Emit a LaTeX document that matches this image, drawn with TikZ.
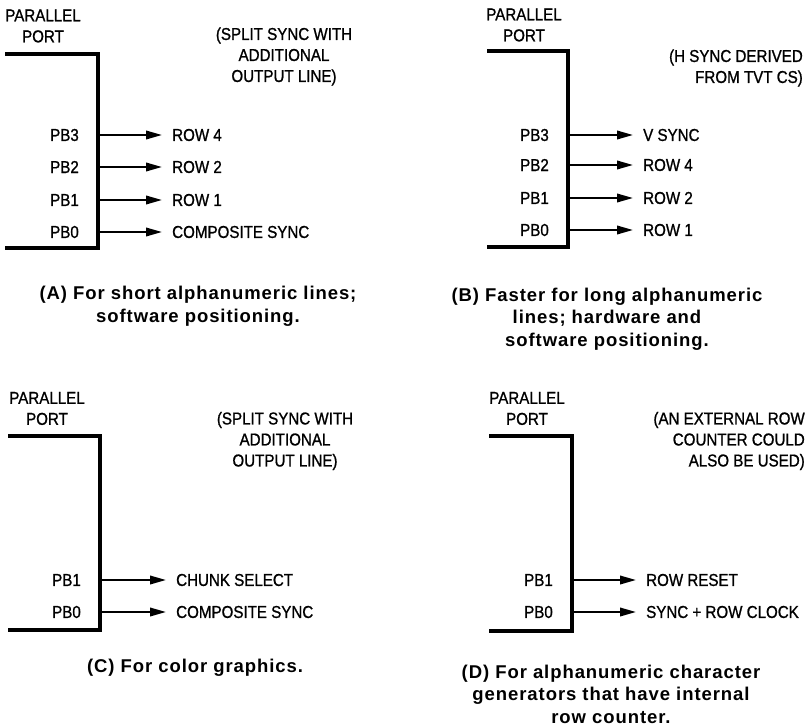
\documentclass[tikz,border=0pt]{standalone}
\usepackage{fontspec}
\usetikzlibrary{arrows.meta}
\newfontfamily\condfont[FakeStretch=0.88,FakeBold=1]{Liberation Sans}
\newfontfamily\capfont[LetterSpace=5]{Liberation Sans}
\begin{document}
\begin{tikzpicture}[x=1pt,y=-1pt,
  portline/.style={line width=4.5pt,line cap=butt,line join=miter},
  sig/.style={line width=2pt,-{Triangle[length=16pt,width=8.5pt]}},
  lbl/.style={font=\condfont\fontsize{17.2}{21}\selectfont,inner sep=0pt},
  pblbl/.style={lbl,anchor=east},
  outlbl/.style={lbl,anchor=west,inner xsep=10pt},
  note/.style={lbl,align=center},
  captxt/.style={font=\capfont\bfseries\fontsize{18.5}{22.5}\selectfont,inner sep=0pt,align=center}
]
\useasboundingbox (0,0) rectangle (812,728);

% ---------- Panel A ----------
\node[note] (parA) at (43,26) {PARALLEL\\PORT};
\draw[portline] (5,54) -- (98,54) -- (98,248) -- (5,248);
\node[pblbl] (pA3) at (79,135) {PB3};
\node[pblbl] (pA2) at (79,167) {PB2};
\node[pblbl] (pA1) at (79,200) {PB1};
\node[pblbl] (pA0) at (79,232) {PB0};
\coordinate (eA3) at (98,135);
\coordinate (eA2) at (98,167);
\coordinate (eA1) at (98,200);
\coordinate (eA0) at (98,232);
\node[outlbl] (oA3) at (162,135) {ROW 4};
\node[outlbl] (oA2) at (162,167) {ROW 2};
\node[outlbl] (oA1) at (162,200) {ROW 1};
\node[outlbl] (oA0) at (162,232) {COMPOSITE SYNC};
\draw[sig] (eA3) -- (oA3.west);
\draw[sig] (eA2) -- (oA2.west);
\draw[sig] (eA1) -- (oA1.west);
\draw[sig] (eA0) -- (oA0.west);
\node[note] (nA) at (284,56.5) {(SPLIT SYNC WITH\\ADDITIONAL\\OUTPUT LINE)};
\node[captxt] (cA) at (198,306.5) {(A) For short alphanumeric lines;\\software positioning.};

% ---------- Panel B ----------
\node[note] (parB) at (524,25) {PARALLEL\\PORT};
\draw[portline] (487,51) -- (568,51) -- (568,247) -- (487,247);
\node[pblbl] (pB3) at (549,135) {PB3};
\node[pblbl] (pB2) at (549,165) {PB2};
\node[pblbl] (pB1) at (549,198) {PB1};
\node[pblbl] (pB0) at (549,230) {PB0};
\coordinate (eB3) at (568,135);
\coordinate (eB2) at (568,165);
\coordinate (eB1) at (568,198);
\coordinate (eB0) at (568,230);
\node[outlbl] (oB3) at (633,135) {V SYNC};
\node[outlbl] (oB2) at (633,165) {ROW 4};
\node[outlbl] (oB1) at (633,198) {ROW 2};
\node[outlbl] (oB0) at (633,230) {ROW 1};
\draw[sig] (eB3) -- (oB3.west);
\draw[sig] (eB2) -- (oB2.west);
\draw[sig] (eB1) -- (oB1.west);
\draw[sig] (eB0) -- (oB0.west);
\node[lbl,align=right,anchor=east] (nB) at (803,68) {(H SYNC DERIVED\\FROM TVT CS)};
\node[captxt] (cB) at (607,319) {(B) Faster for long alphanumeric\\lines; hardware and\\software positioning.};

% ---------- Panel C ----------
\node[note] (parC) at (47,408.5) {PARALLEL\\PORT};
\draw[portline] (8,436) -- (100,436) -- (100,630) -- (8,630);
\node[pblbl] (pC1) at (81,580) {PB1};
\node[pblbl] (pC0) at (81,612) {PB0};
\coordinate (eC1) at (100,580);
\coordinate (eC0) at (100,612);
\node[outlbl] (oC1) at (166,580) {CHUNK SELECT};
\node[outlbl] (oC0) at (166,612) {COMPOSITE SYNC};
\draw[sig] (eC1) -- (oC1.west);
\draw[sig] (eC0) -- (oC0.west);
\node[note] (nC) at (285,441) {(SPLIT SYNC WITH\\ADDITIONAL\\OUTPUT LINE)};
\node[captxt] (cC) at (195,668) {(C) For color graphics.};

% ---------- Panel D ----------
\node[note] (parD) at (527,408.5) {PARALLEL\\PORT};
\draw[portline] (489,436) -- (572,436) -- (572,631) -- (489,631);
\node[pblbl] (pD1) at (553,580) {PB1};
\node[pblbl] (pD0) at (553,612) {PB0};
\coordinate (eD1) at (572,580);
\coordinate (eD0) at (572,612);
\node[outlbl] (oD1) at (636,580) {ROW RESET};
\node[outlbl] (oD0) at (636,612) {SYNC + ROW CLOCK};
\draw[sig] (eD1) -- (oD1.west);
\draw[sig] (eD0) -- (oD0.west);
\node[lbl,align=right,anchor=east] (nD) at (805,441) {(AN EXTERNAL ROW\\COUNTER COULD\\ALSO BE USED)};
\node[captxt] (cD) at (611,694) {(D) For alphanumeric character\\generators that have internal\\row counter.};
\end{tikzpicture}
\end{document}
